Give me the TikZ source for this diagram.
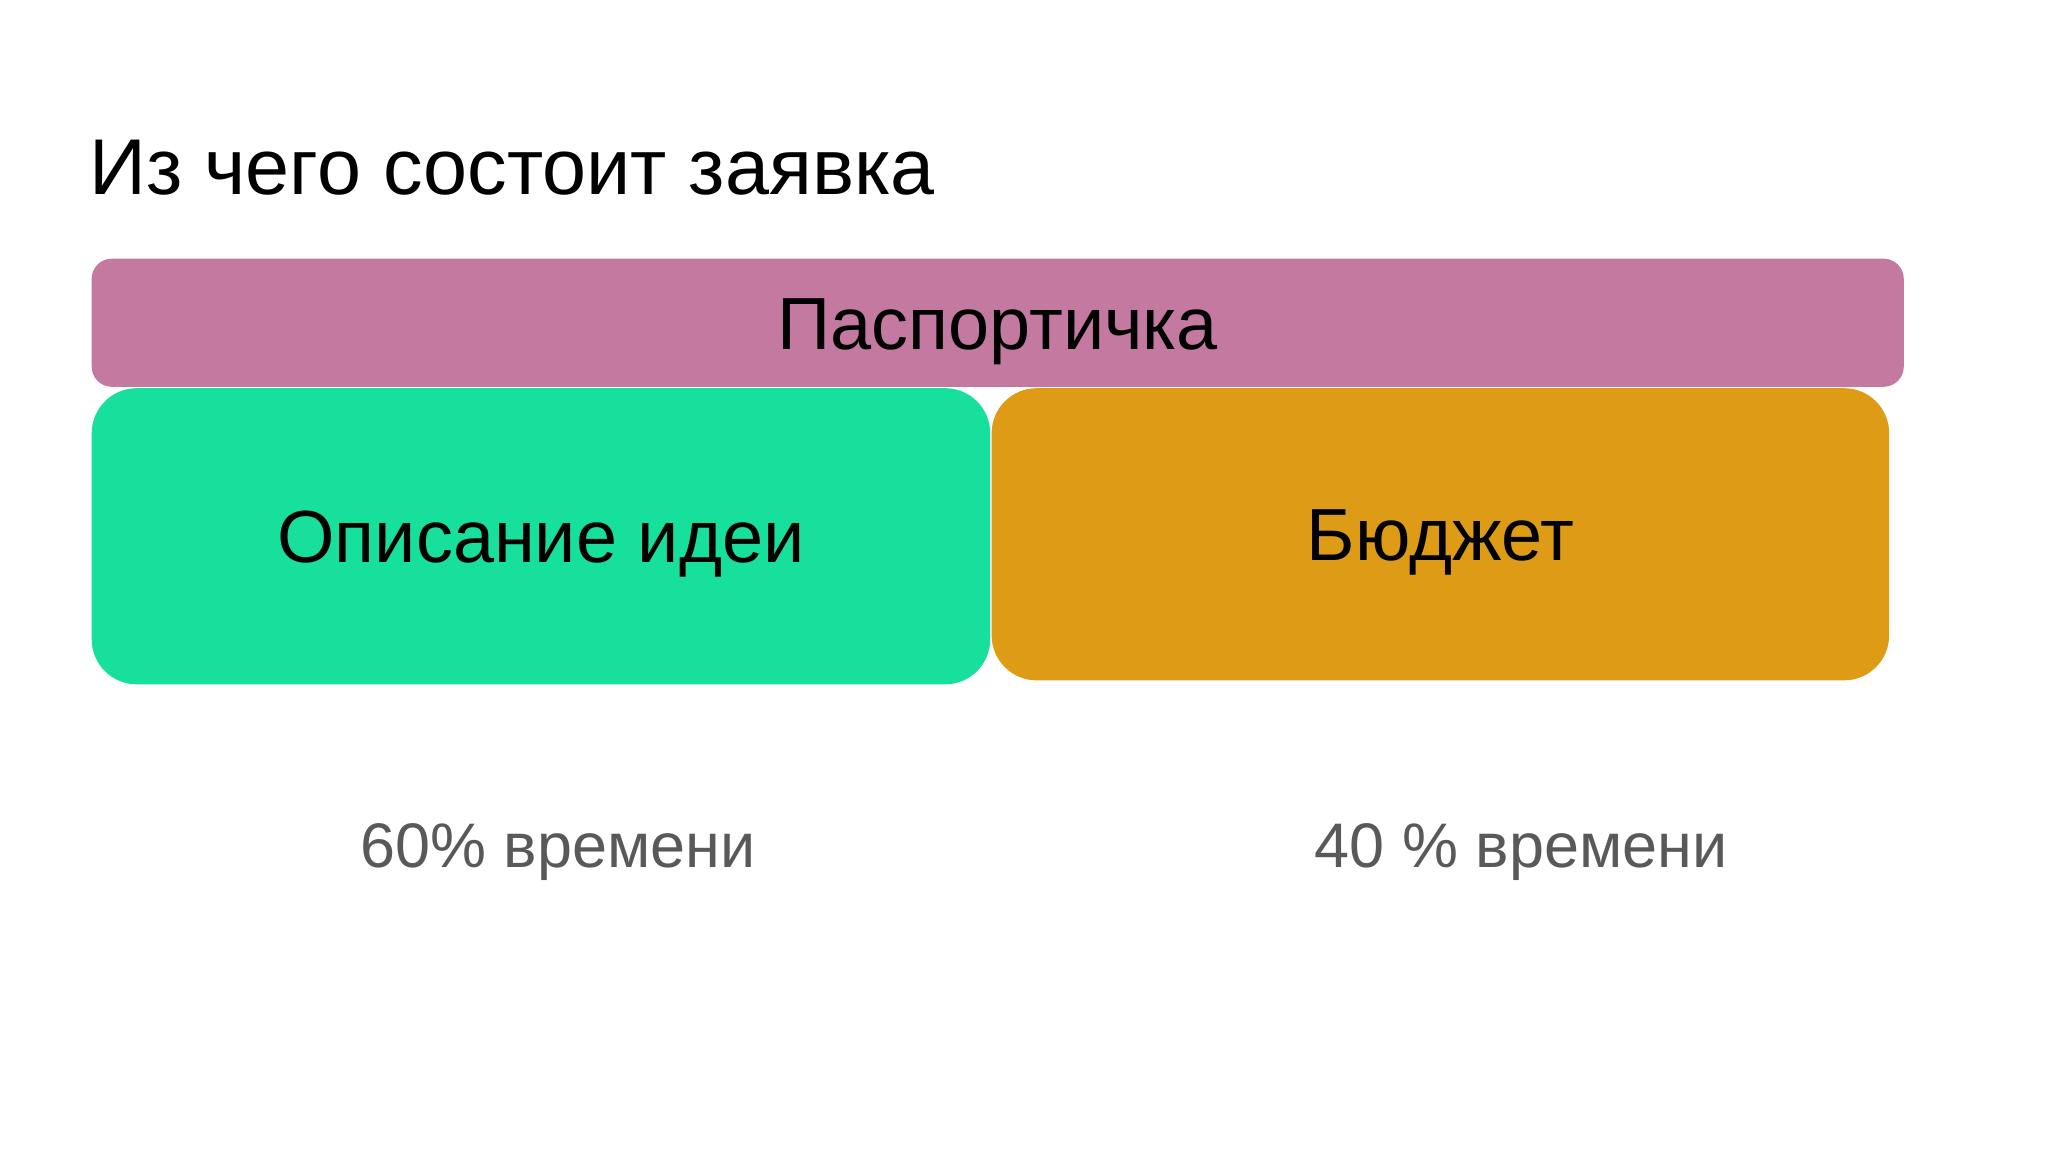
\documentclass[tikz,border=0pt]{standalone}
\usepackage{fontspec}
\setmainfont{Liberation Sans}
\usetikzlibrary{positioning}
\definecolor{colorPass}{RGB}{196,122,160}
\definecolor{colorIdea}{RGB}{22,224,155}
\definecolor{colorBudget}{RGB}{222,155,22}
\definecolor{colorNote}{RGB}{89,89,89}

\begin{document}
\begin{tikzpicture}[
    x=0.01cm, y=-0.01cm,
    part/.style={rectangle, rounded corners=0.45cm, inner sep=0pt, align=center,
                 text height=15pt, text depth=0pt,
                 font=\fontsize{21}{25}\selectfont, text=black},
    note/.style={anchor=base, inner sep=0pt, text=colorNote, font=\fontsize{17.9}{21}\selectfont}
]
\useasboundingbox (0,0) rectangle (2048,1152);

% Title
\node[anchor=base west, inner sep=0pt, font=\fontsize{22.5}{27}\selectfont] (Title) at (89,195) {Из чего состоит заявка};

% Parts of the application
\node[part, rounded corners=0.2cm, fill=colorPass, anchor=north west, minimum width=18.11cm, minimum height=1.28cm] (Pass) at (91,258) {Паспортичка};

\node[part, fill=colorIdea, below right=0pt and 0pt of Pass.south west, minimum width=8.98cm, minimum height=2.96cm] (Idea) {Описание идеи};

\node[part, fill=colorBudget, anchor=north west, minimum width=8.97cm, minimum height=2.92cm] (Budget) at (Idea.north east) {Бюджет};

% Time shares
\node[note] (IdeaTime) at (558,867) {60\% времени};
\node[note] (BudgetTime) at (1521,867) {40 \% времени};

\end{tikzpicture}
\end{document}
